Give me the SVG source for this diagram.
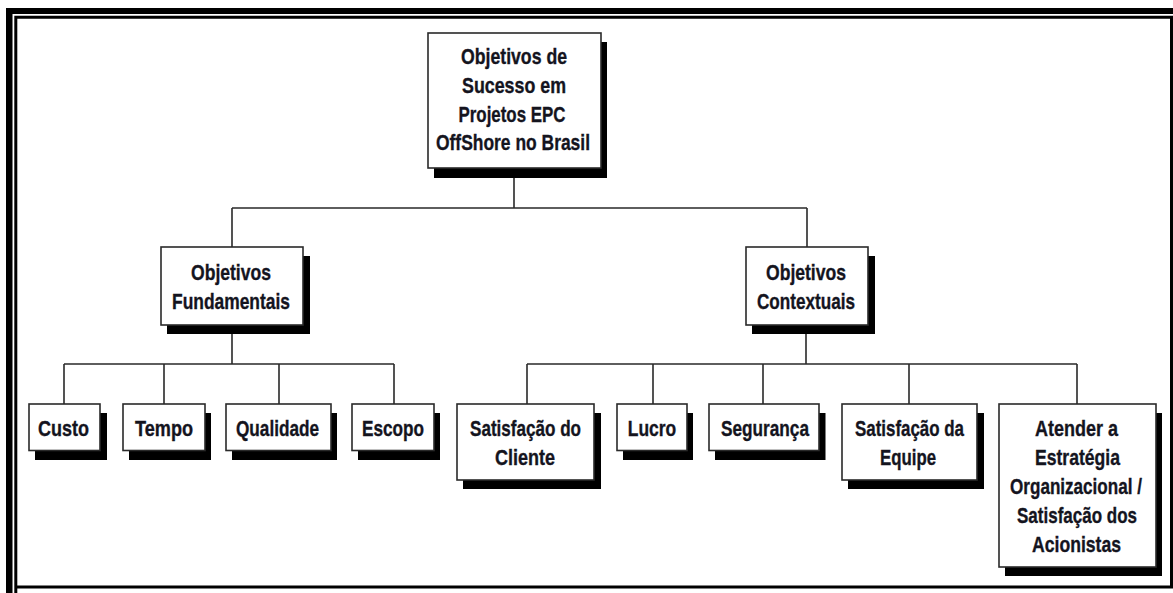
<svg xmlns="http://www.w3.org/2000/svg" width="1173" height="593" viewBox="0 0 1173 593">
<defs>
<style>
.bg{fill:#ffffff}
.frame{fill:#000000}
.inner{fill:none;stroke:#000000;stroke-width:3}
.conn{fill:none;stroke:#2a2a2a;stroke-width:1.6}
.box{fill:#ffffff;stroke:#2a2a2a;stroke-width:1.6}
.shadow{fill:#000000}
.t{font-family:"Liberation Sans Narrow","Arial Narrow","Liberation Sans",Arial,sans-serif;font-weight:bold;font-size:22px;fill:#14141e;stroke:#14141e;stroke-width:0.35;text-anchor:middle}
</style>
</defs>
<rect class="bg" x="0" y="0" width="1173" height="593"/>
<g id="frame">
<rect class="frame" x="6" y="8" width="6.5" height="585"/>
<rect class="frame" x="6" y="8" width="1167" height="6"/>
<path class="inner" d="M15.8,593 V17.3 H1171.5 V587 H15.8"/>
</g>
<g id="connectors">
<path class="conn" d="M514,168 V208 M232,208 H807 M232,208 V247 M807,208 V247"/>
<path class="conn" d="M232,325 V364 M64,364 H394 M64,364 V404 M164,364 V404 M279,364 V404 M394,364 V404"/>
<path class="conn" d="M806,325 V364 M527,364 H1077 M527,364 V404 M653,364 V404 M763,364 V404 M909,364 V404 M1077,364 V404"/>
</g>
<g id="node-top">
<rect class="shadow" x="434" y="42" width="173" height="136"/>
<rect class="box" x="428" y="33" width="173" height="135"/>
<text class="t" x="514" y="64" textLength="106" lengthAdjust="spacingAndGlyphs">Objetivos de</text>
<text class="t" x="514" y="93" textLength="104" lengthAdjust="spacingAndGlyphs">Sucesso em</text>
<text class="t" x="512" y="121.5" textLength="107" lengthAdjust="spacingAndGlyphs">Projetos EPC</text>
<text class="t" x="513" y="150" textLength="154" lengthAdjust="spacingAndGlyphs">OffShore no Brasil</text>
</g>
<g id="node-fundamentais">
<rect class="shadow" x="167" y="256" width="143" height="78"/>
<rect class="box" x="161" y="247" width="142" height="78"/>
<text class="t" x="231" y="280" textLength="80" lengthAdjust="spacingAndGlyphs">Objetivos</text>
<text class="t" x="231" y="309" textLength="118" lengthAdjust="spacingAndGlyphs">Fundamentais</text>
</g>
<g id="node-contextuais">
<rect class="shadow" x="752" y="256" width="123" height="78"/>
<rect class="box" x="746" y="247" width="122" height="78"/>
<text class="t" x="806" y="280" textLength="80" lengthAdjust="spacingAndGlyphs">Objetivos</text>
<text class="t" x="806" y="309" textLength="98" lengthAdjust="spacingAndGlyphs">Contextuais</text>
</g>
<g id="node-custo">
<rect class="shadow" x="35" y="413" width="72" height="47"/>
<rect class="box" x="29" y="404" width="71" height="46.5"/>
<text class="t" x="63.5" y="436" textLength="51" lengthAdjust="spacingAndGlyphs">Custo</text>
</g>
<g id="node-tempo">
<rect class="shadow" x="129" y="413" width="82" height="47"/>
<rect class="box" x="123" y="404" width="82" height="46.5"/>
<text class="t" x="164" y="436" textLength="58" lengthAdjust="spacingAndGlyphs">Tempo</text>
</g>
<g id="node-qualidade">
<rect class="shadow" x="232" y="413" width="105" height="47"/>
<rect class="box" x="226" y="404" width="105" height="46.5"/>
<text class="t" x="277.5" y="436" textLength="83" lengthAdjust="spacingAndGlyphs">Qualidade</text>
</g>
<g id="node-escopo">
<rect class="shadow" x="358" y="413" width="82" height="47"/>
<rect class="box" x="352" y="404" width="82" height="46.5"/>
<text class="t" x="393" y="436" textLength="62" lengthAdjust="spacingAndGlyphs">Escopo</text>
</g>
<g id="node-cliente">
<rect class="shadow" x="463" y="413" width="138" height="76"/>
<rect class="box" x="457" y="404" width="137" height="76"/>
<text class="t" x="525.5" y="436" textLength="111" lengthAdjust="spacingAndGlyphs">Satisfação do</text>
<text class="t" x="525" y="465" textLength="60" lengthAdjust="spacingAndGlyphs">Cliente</text>
</g>
<g id="node-lucro">
<rect class="shadow" x="623" y="413" width="70" height="47"/>
<rect class="box" x="617" y="404" width="70" height="46.5"/>
<text class="t" x="652" y="436" textLength="48.5" lengthAdjust="spacingAndGlyphs">Lucro</text>
</g>
<g id="node-seguranca">
<rect class="shadow" x="715" y="413" width="110.5" height="47"/>
<rect class="box" x="709" y="404" width="110" height="46.5"/>
<text class="t" x="765" y="436" textLength="88" lengthAdjust="spacingAndGlyphs">Segurança</text>
</g>
<g id="node-equipe">
<rect class="shadow" x="848" y="413" width="136" height="76"/>
<rect class="box" x="842" y="404" width="135" height="76"/>
<text class="t" x="909.5" y="436" textLength="109" lengthAdjust="spacingAndGlyphs">Satisfação da</text>
<text class="t" x="908" y="465" textLength="56" lengthAdjust="spacingAndGlyphs">Equipe</text>
</g>
<g id="node-atender">
<rect class="shadow" x="1005" y="413" width="157" height="163"/>
<rect class="box" x="999" y="404" width="157" height="163"/>
<text class="t" x="1076.5" y="436" textLength="83" lengthAdjust="spacingAndGlyphs">Atender a</text>
<text class="t" x="1077.5" y="465" textLength="85" lengthAdjust="spacingAndGlyphs">Estratégia</text>
<text class="t" x="1076" y="494" textLength="132" lengthAdjust="spacingAndGlyphs">Organizacional /</text>
<text class="t" x="1077" y="523" textLength="120" lengthAdjust="spacingAndGlyphs">Satisfação dos</text>
<text class="t" x="1076.5" y="552" textLength="89" lengthAdjust="spacingAndGlyphs">Acionistas</text>
</g>
</svg>
